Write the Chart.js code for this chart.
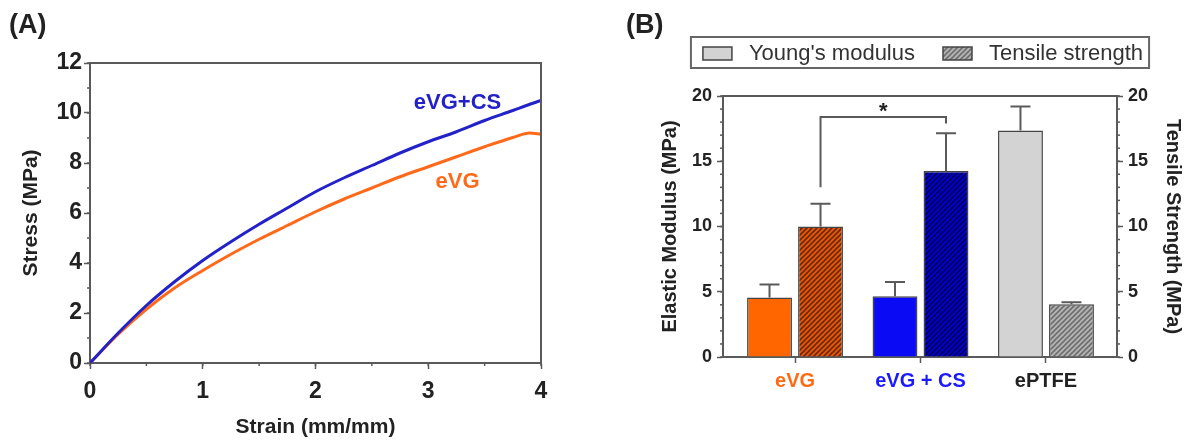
<!DOCTYPE html>
<html>
<head>
<meta charset="utf-8">
<script src="https://cdn.jsdelivr.net/npm/chart.js@4.4.0/dist/chart.umd.min.js"></script>
<style>
  body { margin:0; background:#fff; width:1189px; height:442px; overflow:hidden; position:relative; font-family:"Liberation Sans", Arial, sans-serif; }
  .panel { position:absolute; top:0; }
  .tag { position:absolute; top:9px; font-weight:bold; font-size:27px; color:#222; z-index:2; }
</style>
</head>
<body>
<canvas id="chartA" class="panel" style="left:0" width="600" height="442"></canvas>
<canvas id="chartB" class="panel" style="left:600px" width="589" height="442"></canvas>
<div class="tag" style="left:9px">(A)</div>
<div class="tag" style="left:626px">(B)</div>
<script>
// panel A - stress / strain curves
var strain   = [0, 0.25, 0.5, 0.75, 1, 1.25, 1.5, 1.75, 2, 2.25, 2.5, 2.75, 3, 3.25, 3.5, 3.75, 3.9, 4];
var stressCS = [0, 1.2, 2.3, 3.25, 4.1, 4.85, 5.55, 6.2, 6.85, 7.4, 7.9, 8.4, 8.85, 9.25, 9.7, 10.1, 10.35, 10.5];
var stressVG = [0, 1.15, 2.15, 3.0, 3.7, 4.35, 4.95, 5.5, 6.05, 6.55, 7.0, 7.45, 7.85, 8.25, 8.65, 9.02, 9.2, 9.15];

// panel B - bars
var categories = ['eVG', 'eVG + CS', 'ePTFE'];
var youngMod   = [4.55, 4.65, 17.35];
var youngErr   = [1.0, 1.1, 1.85];
var tensile    = [10.0, 14.25, 4.05];
var tensileErr = [1.75, 2.9, 0.15];

var ORANGE = '#ff6a1a', BLUE = '#2222c8', AXIS = '#5a5a5a', TXT = '#222';
var FONT = '"Liberation Sans", Arial, sans-serif';

function pts(xs, ys) { return xs.map(function (x, i) { return {x: x, y: ys[i]}; }); }

function hatch(base, stripe) {
    var s = 5, p = document.createElement('canvas');
    p.width = s; p.height = s;
    var g = p.getContext('2d');
    g.fillStyle = base; g.fillRect(0, 0, s, s);
    g.strokeStyle = stripe; g.lineWidth = 1.6;
    g.beginPath();
    g.moveTo(0, s); g.lineTo(s, 0);
    g.moveTo(-1, 1); g.lineTo(1, -1);
    g.moveTo(s - 1, s + 1); g.lineTo(s + 1, s - 1);
    g.stroke();
    return g.createPattern(p, 'repeat');
}

// short minor ticks + frame lines
var axisExtras = {
    id: 'axisExtras',
    afterDraw: function (chart, args, opts) {
        var c = chart.ctx, a = chart.chartArea;
        c.save();
        c.strokeStyle = AXIS; c.lineWidth = 1.5;
        (opts.minor || []).forEach(function (m) {
            var sc = chart.scales[m.id];
            for (var v = sc.min; v <= sc.max + 1e-9; v += m.step) {
                var p = sc.getPixelForValue(v);
                c.beginPath();
                if (m.side === 'left') { c.moveTo(a.left, p); c.lineTo(a.left - 3, p); }
                else if (m.side === 'right') { c.moveTo(a.right, p); c.lineTo(a.right + 3, p); }
                else { c.moveTo(p, a.bottom); c.lineTo(p, a.bottom + 3); }
                c.stroke();
            }
        });
        c.lineWidth = 2;
        c.beginPath();
        c.moveTo(a.left, a.top); c.lineTo(a.right, a.top);
        if (opts.rightLine) c.lineTo(a.right, a.bottom);
        c.stroke();
        c.restore();
    }
};

var curveLabels = {
    id: 'curveLabels',
    afterDatasetsDraw: function (chart, args, opts) {
        var c = chart.ctx;
        c.save();
        c.font = 'bold 22px ' + FONT;
        c.textAlign = 'center'; c.textBaseline = 'middle';
        opts.items.forEach(function (it) {
            c.fillStyle = it.color;
            c.fillText(it.text, chart.scales.x.getPixelForValue(it.at[0]), chart.scales.y.getPixelForValue(it.at[1]));
        });
        c.restore();
    }
};

new Chart(document.getElementById('chartA'), {
    type: 'line',
    data: {
        datasets: [
            {label: 'eVG+CS', data: pts(strain, stressCS), borderColor: BLUE, borderWidth: 3, pointRadius: 0, cubicInterpolationMode: 'monotone'},
            {label: 'eVG', data: pts(strain, stressVG), borderColor: ORANGE, borderWidth: 3, pointRadius: 0, cubicInterpolationMode: 'monotone'}
        ]
    },
    options: {
        responsive: false,
        animation: false,
        layout: {padding: {top: 63, right: 59}},
        plugins: {
            legend: {display: false},
            tooltip: {enabled: false},
            axisExtras: {minor: [{id: 'y', step: 1, side: 'left'}, {id: 'x', step: 0.5, side: 'bottom'}], rightLine: true},
            curveLabels: {items: [
                {text: 'eVG+CS', color: BLUE, at: [3.26, 10.4]},
                {text: 'eVG', color: ORANGE, at: [3.26, 7.24]}
            ]}
        },
        scales: {
            x: {
                type: 'linear', min: 0, max: 4,
                afterFit: function (s) { s.height = 79; },
                grid: {drawOnChartArea: false, tickLength: 6, tickColor: AXIS, tickWidth: 1.5},
                border: {color: AXIS, width: 2},
                ticks: {stepSize: 1, padding: 9, color: TXT, font: {family: FONT, size: 23, weight: 'bold'}},
                title: {display: true, text: 'Strain (mm/mm)', color: TXT, padding: {bottom: 2}, font: {family: FONT, size: 21, weight: 'bold'}}
            },
            y: {
                min: 0, max: 12,
                afterFit: function (s) { s.width = 90; },
                grid: {drawOnChartArea: false, tickLength: 6, tickColor: AXIS, tickWidth: 1.5},
                border: {color: AXIS, width: 2},
                ticks: {stepSize: 2, padding: 2, color: TXT, font: {family: FONT, size: 23, weight: 'bold'}},
                title: {display: true, text: 'Stress (MPa)', color: TXT, padding: {top: 19}, font: {family: FONT, size: 21, weight: 'bold'}}
            }
        }
    },
    plugins: [axisExtras, curveLabels]
});

// panel B
var ctxB = document.getElementById('chartB').getContext('2d');
var catColors = ['#ff6a13', '#1a1aff', '#222'];

var errorBars = {
    id: 'errorBars',
    afterDatasetsDraw: function (chart, args, opts) {
        var c = chart.ctx;
        c.save();
        c.strokeStyle = AXIS; c.lineWidth = 2;
        chart.data.datasets.forEach(function (ds, i) {
            var meta = chart.getDatasetMeta(i), ys = chart.scales[ds.yAxisID];
            meta.data.forEach(function (bar, j) {
                var top = ys.getPixelForValue(ds.data[j].y + opts.errors[i][j]);
                c.beginPath();
                c.moveTo(bar.x, bar.y); c.lineTo(bar.x, top);
                c.moveTo(bar.x - 10, top); c.lineTo(bar.x + 10, top);
                c.stroke();
            });
        });
        // significance bracket between the two tensile bars
        var meta = chart.getDatasetMeta(1), ys = chart.scales.y1;
        var x1 = meta.data[opts.bracket.from].x, x2 = meta.data[opts.bracket.to].x;
        var yl = ys.getPixelForValue(opts.bracket.level);
        c.beginPath();
        c.moveTo(x1, ys.getPixelForValue(opts.bracket.legs[0])); c.lineTo(x1, yl);
        c.lineTo(x2, yl); c.lineTo(x2, ys.getPixelForValue(opts.bracket.legs[1]));
        c.stroke();
        c.fillStyle = TXT; c.font = 'bold 22px ' + FONT;
        c.textAlign = 'center'; c.textBaseline = 'middle';
        c.fillText('*', (x1 + x2) / 2, yl - 5);
        c.restore();
    }
};

var boxLegend = {
    id: 'boxLegend',
    afterDraw: function (chart, args, opts) {
        var c = chart.ctx, ds = chart.data.datasets;
        c.save();
        c.font = '22px ' + FONT;
        var w1 = c.measureText(ds[0].label).width, w2 = c.measureText(ds[1].label).width;
        var total = 12 + 29 + 17 + w1 + 28 + 29 + 17 + w2 + 6;
        var x = opts.center - total / 2, y = opts.top, h = 31;
        c.strokeStyle = '#666'; c.lineWidth = 2;
        c.strokeRect(x, y, total, h);
        var sx = x + 12;
        [[ds[0], w1], [ds[1], w2]].forEach(function (it) {
            c.fillStyle = it[0].backgroundColor[2];
            c.fillRect(sx, y + 10, 29, 13);
            c.strokeStyle = '#444'; c.lineWidth = 1.5;
            c.strokeRect(sx, y + 10, 29, 13);
            c.fillStyle = '#333'; c.textBaseline = 'middle';
            c.fillText(it[0].label, sx + 29 + 17, y + h / 2 + 1);
            sx += 29 + 17 + it[1] + 28;
        });
        c.restore();
    }
};

new Chart(ctxB, {
    type: 'bar',
    data: {
        datasets: [
            {label: "Young's modulus", yAxisID: 'y', data: pts([0, 1, 2], youngMod),
             backgroundColor: ['#ff6600', '#0a0af5', '#d3d3d3'], borderColor: '#444', borderWidth: 1.5,
             categoryPercentage: 0.813, barPercentage: 0.88},
            {label: 'Tensile strength', yAxisID: 'y1', data: pts([0, 1, 2], tensile),
             backgroundColor: [hatch('#e8580c', '#6a2808'), hatch('#0000d8', '#000050'), hatch('#b4b4b4', '#6e6e6e')],
             borderColor: '#444', borderWidth: 1.5,
             categoryPercentage: 0.813, barPercentage: 0.88}
        ]
    },
    options: {
        responsive: false,
        animation: false,
        layout: {padding: {top: 96}},
        plugins: {
            legend: {display: false},
            tooltip: {enabled: false},
            axisExtras: {minor: [{id: 'y', step: 1, side: 'left'}, {id: 'y1', step: 1, side: 'right'}], rightLine: false},
            errorBars: {errors: [youngErr, tensileErr], bracket: {from: 0, to: 1, level: 18.4, legs: [13.0, 17.9]}},
            boxLegend: {center: 320, top: 37}
        },
        scales: {
            x: {
                type: 'linear', min: -0.574, max: 2.566, offset: false,
                afterFit: function (s) { s.height = 85; },
                afterBuildTicks: function (s) { s.ticks = categories.map(function (c, i) { return {value: i}; }); },
                grid: {drawOnChartArea: false, offset: false, tickLength: 6, tickColor: AXIS, tickWidth: 1.5},
                border: {color: AXIS, width: 2},
                ticks: {
                    padding: 6,
                    callback: function (v) { return categories[v]; },
                    color: function (ctx) { return catColors[ctx.index]; },
                    font: {family: FONT, size: 20, weight: 'bold'}
                }
            },
            y: {
                position: 'left', min: 0, max: 20,
                afterFit: function (s) { s.width = 123; },
                grid: {drawOnChartArea: false, tickLength: 6, tickColor: AXIS, tickWidth: 1.5},
                border: {color: AXIS, width: 2},
                ticks: {stepSize: 5, padding: 5, color: TXT, font: {family: FONT, size: 18, weight: 'bold'}},
                title: {display: true, text: 'Elastic Modulus (MPa)', color: TXT, padding: {top: 58}, font: {family: FONT, size: 20, weight: 'bold'}}
            },
            y1: {
                position: 'right', min: 0, max: 20,
                afterFit: function (s) { s.width = 72; },
                grid: {drawOnChartArea: false, tickLength: 6, tickColor: AXIS, tickWidth: 1.5},
                border: {color: AXIS, width: 2},
                ticks: {stepSize: 5, padding: 5, color: TXT, font: {family: FONT, size: 18, weight: 'bold'}},
                title: {display: true, text: 'Tensile Strength (MPa)', color: TXT, padding: {top: 4}, font: {family: FONT, size: 20, weight: 'bold'}}
            }
        }
    },
    plugins: [axisExtras, errorBars, boxLegend]
});
</script>
</body>
</html>
